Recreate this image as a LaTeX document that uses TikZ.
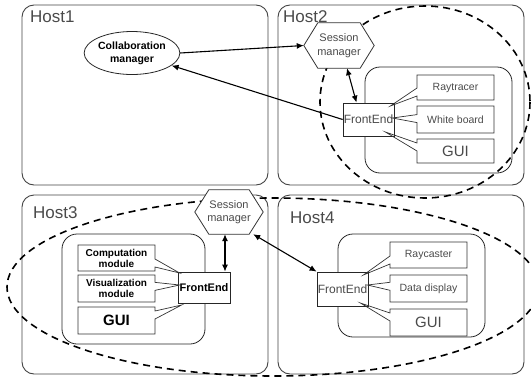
\documentclass[tikz,border=0pt]{standalone}
\usepackage{fontspec}
\setmainfont{Liberation Sans}
\usetikzlibrary{shapes.geometric,shapes.callouts,arrows.meta,calc}

\definecolor{hostline}{HTML}{444444}
\definecolor{softtext}{HTML}{4A4A4A}

\begin{document}
\begin{tikzpicture}[x=1pt,y=-1pt,
  host/.style={draw=hostline, line width=0.9pt, rounded corners=12pt},
  hostlabel/.style={anchor=base west, text=softtext, inner sep=0pt,
    font=\fontsize{17}{17}\selectfont},
  group/.style={draw=black!85, line width=0.8pt, rounded corners=15pt},
  modbox/.style={rectangle callout, draw=black!80, line width=0.7pt,
    minimum width=77pt, inner sep=0pt, align=center, callout pointer width=8pt},
  lighttext/.style={text=softtext, font=\fontsize{10.5}{12}\selectfont},
  boldtext/.style={text=black, font=\bfseries\fontsize{10}{11}\selectfont},
  bigtext/.style={font=\fontsize{15}{15}\selectfont},
  frontend/.style={draw=black!85, fill=white, line width=0.8pt, inner sep=0pt,
    minimum width=51pt, minimum height=33pt},
  hexframe/.style={inner sep=0pt, minimum width=70pt, minimum height=45pt},
  hexline/.style={draw=black!80, fill=white, line width=0.8pt},
  hextext/.style={text=softtext, align=center, inner sep=0pt,
    font=\fontsize{11}{13.5}\selectfont},
  link/.style={line width=1.1pt, -{Latex[length=7pt,width=6pt]}},
  dlink/.style={line width=1.1pt, {Latex[length=7pt,width=6pt]}-{Latex[length=7pt,width=6pt]}},
  session/.style={draw=black, line width=1.6pt, dash pattern=on 7pt off 5pt},
]
\useasboundingbox (0,0) rectangle (531,378);

% hosts
\draw[host] (22,5) rectangle (268,185);
\draw[host] (278,5) rectangle (524,185);
\draw[host] (22,195) rectangle (268,374);
\draw[host] (278,195) rectangle (524,374);
\node[hostlabel] (h1) at (30,22) {Host1};
\node[hostlabel] (h2) at (283,22) {Host2};
\node[hostlabel] (h3) at (33,218) {Host3};
\node[hostlabel] (h4) at (290,223) {Host4};

% sessions
\draw[session] (425,102) ellipse [x radius=105, y radius=96];
\begin{scope}
  \clip (0,0) rectangle (531,378);
  \draw[session] (273,287) ellipse [x radius=266, y radius=89];
\end{scope}

% application groups
\draw[group] (365,67) rectangle (512,173);
\draw[group] (62,234) rectangle (205,344);
\draw[group] (338,234) rectangle (485,337);

% Host1
\node[ellipse, draw=black!85, fill=white, line width=0.8pt, minimum width=89pt,
  minimum height=43pt, inner sep=0pt, align=center,
  font=\bfseries\fontsize{10.5}{13}\selectfont] (collab) at (132,53)
  {Collaboration\\manager};

% Host2
\node[hexframe] (hex2) at (339,45.5) {};
\draw[hexline] ([xshift=14pt]hex2.north west) -- ([xshift=-14pt]hex2.north east)
  -- (hex2.east) -- ([xshift=-14pt]hex2.south east)
  -- ([xshift=14pt]hex2.south west) -- (hex2.west) -- cycle;
\node[hextext] (hex2txt) at (hex2) {Session\\manager};
\node[frontend, text=softtext, font=\fontsize{12}{12}\selectfont] (fe2) at (368.5,119.5) {FrontEnd};
\node[modbox, lighttext, minimum height=25pt,
  callout absolute pointer={($(fe2.east)+(-4,-13.5)$)}] (ray) at (455.5,87.5) {Raytracer};
\node[modbox, lighttext, minimum height=27pt,
  callout absolute pointer={($(fe2.east)+(-2,-1.5)$)}] (wb) at (455.5,119.5) {White board};
\node[modbox, lighttext, bigtext, minimum height=24pt,
  callout absolute pointer={($(fe2.east)+(-9,12.5)$)}] (gui2) at (455.5,151) {GUI};

% Host3
\node[hexframe, minimum width=68pt, minimum height=44pt] (hex3) at (229,212) {};
\draw[hexline] ([xshift=14pt]hex3.north west) -- ([xshift=-14pt]hex3.north east)
  -- (hex3.east) -- ([xshift=-14pt]hex3.south east)
  -- ([xshift=14pt]hex3.south west) -- (hex3.west) -- cycle;
\node[hextext] (hex3txt) at (hex3) {Session\\manager};
\node[frontend, minimum width=52pt, minimum height=31pt,
  font=\bfseries\fontsize{11}{11}\selectfont] (fe3) at (204,287.5) {FrontEnd};
\node[modbox, boldtext, minimum height=26pt,
  callout absolute pointer={($(fe3.west)+(2,-14.5)$)}] (comp) at (116.5,258) {Computation\\module};
\node[modbox, boldtext, font=\bfseries\fontsize{10}{11}\selectfont, minimum height=27pt,
  callout absolute pointer={($(fe3.west)+(2,-2.5)$)}] (vis) at (116.5,288.5) {Visualization\\module};
\node[modbox, boldtext, font=\bfseries\fontsize{15}{15}\selectfont, minimum height=27pt,
  callout absolute pointer={($(fe3.west)+(4,17.5)$)}] (gui3) at (116.5,320.5) {GUI};

% Host4
\node[frontend, minimum height=34pt, text=softtext, font=\fontsize{12}{12}\selectfont] (fe4) at (342.5,289) {FrontEnd};
\node[modbox, lighttext, minimum height=26pt,
  callout absolute pointer={($(fe4.east)+(-5,-14)$)}] (rayc) at (428.5,255) {Raycaster};
\node[modbox, lighttext, minimum height=27pt,
  callout absolute pointer={($(fe4.east)+(-1,-4)$)}] (disp) at (428.5,288.5) {Data display};
\node[modbox, lighttext, bigtext, minimum height=27pt,
  callout absolute pointer={($(fe4.east)+(-8,14)$)}] (gui4) at (428.5,322.5) {GUI};

% connections
\draw[link] (collab.east) -- (hex2.west);
\draw[link] (fe2.west) -- (collab);
\draw[dlink] ([xshift=8pt]hex2.south) -- ([xshift=-12pt]fe2.north);
\draw[dlink] ([xshift=-4pt]hex3.south) -- ([xshift=-4pt]hex3.south |- fe3.north);
\draw[dlink] ([xshift=-10pt]hex3.south east) -- (fe4.north west);
\end{tikzpicture}
\end{document}
